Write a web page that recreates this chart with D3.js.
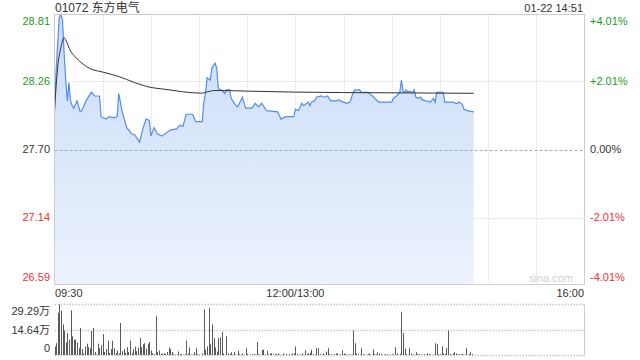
<!DOCTYPE html>
<html><head><meta charset="utf-8">
<script src="https://cdn.jsdelivr.net/npm/d3@7"></script>
<style>body{margin:0;background:#fff}svg{display:block}text{font-family:Arial,"Liberation Sans","Noto Sans CJK SC",sans-serif}</style>
</head><body>
<script>
// ---- data ----
const title = "01072 东方电气";
const stamp = "01-22 14:51";
const prevClose = 27.70;
const priceTicks = [28.81, 28.26, 27.70, 27.14, 26.59];
const pctTicks = ["+4.01%", "+2.01%", "0.00%", "-2.01%", "-4.01%"];
const timeTicks = ["09:30", "12:00/13:00", "16:00"];
const volTicks = ["29.29万", "14.64万", "0"];
const volMax = 29.29;

const priceTimes = ["09:30","09:31","09:33","09:34","09:35","09:36","09:37","09:38","09:39","09:40","09:41","09:42","09:44","09:46","09:47","09:50","09:53","09:55","09:58","09:59",
"10:02","10:04","10:07","10:09","10:10","10:12","10:15","10:18","10:20","10:23","10:25","10:27","10:29","10:30","10:32","10:34","10:37","10:42","10:46","10:48","10:50","10:52","10:56","10:58",
"11:02","11:03","11:04","11:05","11:07","11:08","11:10","11:11","11:12","11:14","11:16","11:17","11:19","11:20","11:22","11:24","11:27","11:29","11:33","11:35","11:37","11:39","11:42","11:49","11:51","11:54","11:59",
"13:00","13:02","13:04","13:05","13:07","13:08","13:09","13:10","13:12","13:13","13:16","13:18","13:20","13:22","13:26","13:27","13:28","13:30","13:32","13:34","13:36","13:37","13:40","13:41","13:45","13:48","13:51","13:52",
"14:00","14:01","14:03","14:05","14:06","14:07","14:08","14:09","14:10","14:11","14:13","14:14","14:15","14:17","14:18","14:19","14:21","14:24","14:26","14:27","14:28","14:32","14:33","14:38","14:40","14:41","14:42","14:44","14:45","14:47","14:51"];
const prices = [28.02,28.35,28.79,28.81,28.76,28.49,28.27,28.10,28.25,28.10,28.06,28.04,28.10,28.01,28.02,28.11,28.17,28.14,28.14,27.97,
27.95,27.97,27.96,27.97,28.16,28.02,27.88,27.83,27.82,27.76,27.87,27.95,27.94,27.81,27.88,27.83,27.81,27.86,27.87,27.90,27.89,27.99,27.99,27.93,
27.93,28.09,28.16,28.29,28.27,28.37,28.41,28.37,28.20,28.19,28.16,28.19,28.19,28.12,28.08,28.05,28.13,28.04,28.04,28.08,28.05,28.08,28.02,28.01,27.95,27.97,27.97,
28.03,28.02,28.08,28.06,28.08,28.09,28.06,28.09,28.10,28.13,28.14,28.13,28.14,28.10,28.10,28.11,28.10,28.09,28.08,28.09,28.17,28.19,28.19,28.17,28.17,28.14,28.10,28.09,
28.09,28.12,28.14,28.17,28.27,28.18,28.17,28.19,28.17,28.18,28.17,28.19,28.13,28.12,28.13,28.11,28.10,28.09,28.12,28.09,28.17,28.17,28.09,28.09,28.08,28.08,28.09,28.07,28.03,28.02,28.01];

const avgTimes = ["09:30","09:32","09:34","09:36","09:37","09:40","09:43","09:47","09:53","09:59","10:10","10:20","10:30","10:36","11:02","11:04","11:10","11:13","11:30","13:00","13:30","14:00","14:51"];
const avgPrices = [28.02,28.38,28.54,28.62,28.60,28.51,28.46,28.41,28.36,28.34,28.30,28.25,28.21,28.20,28.163,28.17,28.185,28.185,28.18,28.172,28.168,28.166,28.162];

// volume per minute (万股); morning starts 09:30, afternoon starts 13:00
const volMorning = [5.2,7.1,24.5,29.29,25.9,17.8,14.3,7.5,12.9,9.1,25.9,11,9.1,9.1,7.5,4.2,15.8,3.7,1.2,5.2,
6.8,4.8,4.2,14.1,15.8,2,0.6,6.8,4.2,5.8,12.3,2,3.7,8.5,1.5,3.7,8.5,4.2,1.5,2.9,
1.2,18.7,2.5,3.7,1.5,4.8,2,8.5,1.3,3.7,5.2,2.5,4.5,10,4.8,6.5,7,4,6.8,7.7,
2.9,1.4,0.8,22.6,2,2.9,1,1,1.4,0.8,2,4.5,3.7,2,0.8,0.5,0.5,2.3,0.8,0.8,
0.5,0.5,8.5,1.2,4.6,0.5,0.5,1.9,4.2,0.8,0.5,0.3,1.2,26.5,3.3,5.2,27.4,6.5,17.8,10,
4.6,2.3,10,10.4,13.5,1.2,0.5,11,1.2,0.8,1.9,0.5,1.9,0.5,2.7,0.8,0.5,1.2,0.5,4.2,
0.8,0.5,0.5,0.8,0.8,0.5,7.7,0.8,0.5,3.3,3.3,0.5,2.7,0.5,1.2,1.2,0.5,0.8,0.8,1.2,
0.5,0.5,1.2,0.5,0.8,0.5,0.8,0.5,1.2,1.2];
const volAfternoon = [5.2,0.8,0.5,0.5,1.2,0.5,3,0.8,1.2,1.6,3.3,0.8,0.5,4.2,4.2,0.8,0.5,1.2,0.5,2.3,
4.2,0.8,0.5,0.5,0.8,1.2,1.2,0.5,0.5,3,1.2,0.8,0.5,0.5,0.8,0.5,14.3,7.1,1.2,0.8,
0.5,4.2,0.8,0.5,0.5,0.8,1.2,0.5,3.5,0.8,0.5,1.9,1.2,0.8,0.5,0.5,0.8,0.8,0.5,0.5,
0.8,0.5,4.8,1.2,0.5,0.8,25.1,12.9,4,0.8,0.5,4.2,1.2,0.5,0.5,1.9,0.8,0.8,0.5,0.5,
0.8,0.5,1.2,0.8,0.5,0.5,0.5,7.1,6.5,0.8,0.8,5.2,1.2,0.8,4.2,14.3,0.8,0.5,1.2,1.9,
1.2,0.8,0.5,0.8,0.8,0.5,4.2,0.5,0.8,1.9,0.8];

// ---- helpers ----
function idx(t){const [h,m]=t.split(":").map(Number);const mins=h*60+m;return mins<=720?mins-570:150+(mins-780);}

const W=640,H=360,L=54.5,R=584.5,T=14.5,B=284.5,VT=304.5,VB=355.5;
const svg=d3.select("body").append("svg").attr("width",W).attr("height",H);
const x=d3.scaleLinear().domain([0,330]).range([L,R]);
const y=d3.scaleLinear().domain([priceTicks[4],priceTicks[0]]).range([B,T]);
const yv=d3.scaleLinear().domain([0,volMax]).range([VB,VT]);

const green="#1a9e1a",red="#f23030",dark="#333";
function tickColor(v){return v>prevClose+1e-9?green:(v<prevClose-1e-9?red:dark);}

// gradient
const defs=svg.append("defs");
const g=defs.append("linearGradient").attr("id","fillg").attr("x1",0).attr("y1",0).attr("x2",0).attr("y2",1);
g.append("stop").attr("offset","0%").attr("stop-color","#c9dcf8");
g.append("stop").attr("offset","100%").attr("stop-color","#edf3fd");

// grid
const vgrid=d3.range(1,11).map(i=>i*30);
svg.append("g").selectAll("line").data(vgrid).join("line")
 .attr("x1",d=>Math.round(x(d))+0.5).attr("x2",d=>Math.round(x(d))+0.5).attr("y1",T).attr("y2",B)
 .attr("stroke","#c8c8c8").attr("stroke-dasharray","1,2");
svg.append("g").selectAll("line").data([priceTicks[1],priceTicks[3]]).join("line")
 .attr("x1",L).attr("x2",R).attr("y1",d=>Math.round(y(d))+0.5).attr("y2",d=>Math.round(y(d))+0.5)
 .attr("stroke","#c8c8c8").attr("stroke-dasharray","1,2");

// price area + lines
const pts=priceTimes.map((t,i)=>({i:idx(t),v:prices[i]}));
svg.append("path").datum(pts).attr("fill","url(#fillg)")
 .attr("d",d3.area().x(d=>x(d.i)).y0(B).y1(d=>y(d.v)));
svg.append("line").attr("x1",L).attr("x2",R).attr("y1",Math.round(y(prevClose))+0.5).attr("y2",Math.round(y(prevClose))+0.5)
 .attr("stroke","#aaa").attr("stroke-dasharray","3,2");
svg.append("path").datum(pts).attr("fill","none").attr("stroke","#4f8ef0").attr("stroke-width",1.2)
 .attr("d",d3.line().x(d=>x(d.i)).y(d=>y(d.v)));
const apts=avgTimes.map((t,i)=>({i:idx(t),v:avgPrices[i]}));
svg.append("path").datum(apts).attr("fill","none").attr("stroke","#333").attr("stroke-width",1)
 .attr("d",d3.line().curve(d3.curveMonotoneX).x(d=>x(d.i)).y(d=>y(d.v)));

// border
svg.append("rect").attr("x",L).attr("y",T).attr("width",R-L).attr("height",B-T).attr("fill","none").attr("stroke","#ccc");

// left/right labels
const ly=(i)=> i===0? T+7 : (i===4? B-7 : y(priceTicks[i]));
svg.append("g").selectAll("text").data(priceTicks).join("text")
 .attr("x",50).attr("y",(d,i)=>ly(i)).attr("dy","0.35em").attr("text-anchor","end")
 .attr("font-size",11).attr("fill",d=>tickColor(d)).text(d=>d.toFixed(2));
svg.append("g").selectAll("text").data(pctTicks).join("text")
 .attr("x",590).attr("y",(d,i)=>ly(i)).attr("dy","0.35em")
 .attr("font-size",11).attr("fill",(d,i)=>tickColor(priceTicks[i])).text(d=>d);

// titles
svg.append("text").attr("x",55).attr("y",12).attr("font-size",12).attr("fill",dark).text(title);
svg.append("text").attr("x",583).attr("y",12).attr("text-anchor","end").attr("font-size",11).attr("fill",dark).text(stamp);
svg.append("text").attr("x",573).attr("y",282).attr("text-anchor","end").attr("font-size",11).attr("fill","#cfcfcf").text("sina.com");

// time labels
const tpos=[0,150,330], tanchor=["start","middle","end"];
svg.append("g").selectAll("text").data(timeTicks).join("text")
 .attr("x",(d,i)=>i===0?55:(i===2?584:x(tpos[i]))).attr("y",297).attr("text-anchor",(d,i)=>tanchor[i])
 .attr("font-size",11).attr("fill",dark).text(d=>d);

// volume panel
const vlines=[volMax,volMax/2,0];
svg.append("g").selectAll("line").data(vlines).join("line")
 .attr("x1",L).attr("x2",R).attr("y1",(d,i)=>i===0?VT:(i===2?VB:Math.round(yv(d))+0.5)).attr("y2",(d,i)=>i===0?VT:(i===2?VB:Math.round(yv(d))+0.5))
 .attr("stroke","#c8c8c8").attr("stroke-width",1.3).attr("stroke-dasharray","1.5,1.5");
svg.append("line").attr("x1",R).attr("x2",R).attr("y1",VT).attr("y2",VB).attr("stroke","#ccc");
const vols=volMorning.map((v,i)=>({i:i,v:v})).concat(volAfternoon.map((v,i)=>({i:150+i,v:v})));
svg.append("g").selectAll("rect").data(vols).join("rect")
 .attr("x",d=>Math.round(x(d.i))).attr("width",1)
 .attr("y",d=>yv(d.v)).attr("height",d=>VB-0.5-yv(d.v)).attr("fill","#5a5a5a");
const vly=[VT+7,330,VB-7];
svg.append("g").selectAll("text").data(volTicks).join("text")
 .attr("x",50).attr("y",(d,i)=>vly[i]).attr("dy","0.35em").attr("text-anchor","end")
 .attr("font-size",11).attr("fill",dark).text(d=>d);
</script>
</body></html>
